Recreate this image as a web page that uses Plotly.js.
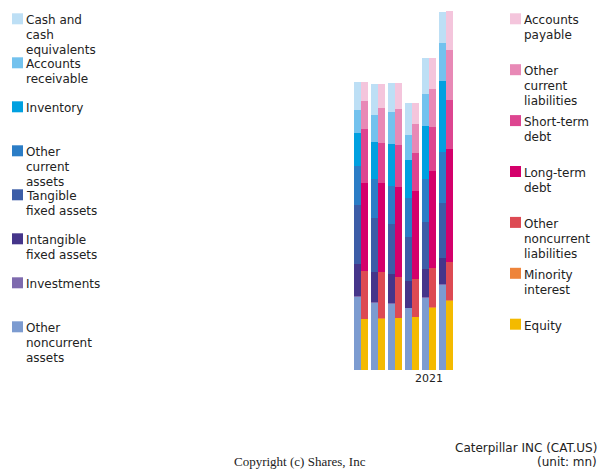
<!DOCTYPE html>
<html>
<head>
<meta charset="utf-8">
<script src="https://cdn.plot.ly/plotly-3.0.1.min.js"></script>
<style>html,body{margin:0;padding:0;background:#fff;}#chart{width:600px;height:470px;}</style>
</head>
<body>
<div id="chart"></div>
<script>
// Periods (only 2021 labelled on the axis)
const periods = ["2017", "2018", "2019", "2020", "2021", "2022"];
const shownTicks = ["2021"];

// Assets, bottom to top (unit: mn)
const otherNoncurrentAssets = [18325, 16775, 16525, 15425, 18100, 21275];
const investments           = [175, 150, 150, 150, 150, 150];
const intangibleFixedAssets = [7925, 7650, 7325, 6600, 6925, 6500];
const tangibleFixedAssets   = [14825, 13350, 12425, 11000, 11825, 13750];
const otherCurrentAssets    = [9750, 9750, 9575, 9750, 10825, 12825];
const inventory             = [8325, 9400, 10500, 9650, 13250, 17675];
const accountsReceivable    = [5675, 6675, 8000, 6175, 8000, 9650];
const cashAndEquivalents    = [7075, 7750, 7175, 8075, 8850, 7750];

// Liabilities & equity, bottom to top (unit: mn)
const equity                     = [12675, 12750, 12925, 13175, 15575, 17325];
const minorityInterest           = [150, 150, 150, 200, 150, 175];
const otherNoncurrentLiabilities = [12000, 11600, 10100, 9450, 9850, 9575];
const longTermDebt               = [22000, 22175, 22650, 22000, 24250, 28175];
const shortTermDebt              = [13350, 10150, 10500, 9500, 11000, 12150];
const otherCurrentLiabilities    = [7150, 8750, 8850, 7250, 9350, 12675];
const accountsPayable            = [4750, 5925, 6500, 5250, 7750, 9575];

const assetNames = ["Other<br>noncurrent<br>assets", "Investments", "Intangible<br>fixed assets",
  "Tangible<br>fixed assets", "Other<br>current<br>assets", "Inventory", "Accounts<br>receivable",
  "Cash and<br>cash<br>equivalents"];
const assetValues = [otherNoncurrentAssets, investments, intangibleFixedAssets, tangibleFixedAssets,
  otherCurrentAssets, inventory, accountsReceivable, cashAndEquivalents];
const assetColors = ["#7C9BD0", "#7E6AAE", "#45358A", "#3C5DA7", "#2B7DC6", "#00A0E0", "#73C2EE", "#BDDFF5"];

const liabNames = ["Equity", "Minority<br>interest", "Other<br>noncurrent<br>liabilities",
  "Long-term<br>debt", "Short-term<br>debt", "Other<br>current<br>liabilities", "Accounts<br>payable"];
const liabValues = [equity, minorityInterest, otherNoncurrentLiabilities, longTermDebt,
  shortTermDebt, otherCurrentLiabilities, accountsPayable];
const liabColors = ["#F4BA00", "#EE843A", "#DD4A53", "#D4006B", "#DD4590", "#E889B6", "#F4C5DC"];

const titleLines = ["Caterpillar INC (CAT.US)", "(unit: mn)"];
const copyright = "Copyright (c) Shares, Inc";

// ---- layout geometry ----
const W = 600, H = 470;
const M = {l: 120, r: 100, t: 10, b: 100};
const plotW = W - M.l - M.r, plotH = H - M.t - M.b;
const slotPx = 17, barPx = 7, firstCenterPx = 361;
const xr0 = -(firstCenterPx - M.l) / slotPx;
const xr1 = xr0 + plotW / slotPx;
const half = (barPx / 2) / slotPx;
const barW = barPx / slotPx;
const yMax = 90000;

const idx = periods.map((p, i) => i);
const traces = [];
assetValues.forEach((vals, k) => {
  traces.push({type: "bar", name: assetNames[k].replace(/<br>/g, " "),
    x: idx.map(i => i - half), y: vals, width: barW,
    marker: {color: assetColors[k], line: {width: 0}}, showlegend: false, hoverinfo: "name+y"});
});
liabValues.forEach((vals, k) => {
  traces.push({type: "bar", name: liabNames[k].replace(/<br>/g, " "),
    x: idx.map(i => i + half), y: vals, width: barW,
    marker: {color: liabColors[k], line: {width: 0}}, showlegend: false, hoverinfo: "name+y"});
});

// ---- manual legends ----
const px2x = px => (px - M.l) / plotW;
const px2y = py => (M.t + plotH - py) / plotH;
const shapes = [], annotations = [];
const font = {family: "DejaVu Sans", size: 12, color: "#222"};
function addLegend(names, colors, sqX, txtX, top0, step) {
  const n = names.length;
  for (let j = 0; j < n; j++) {
    const k = n - 1 - j; // top of stack first
    const top = top0 + j * step;
    shapes.push({type: "rect", xref: "paper", yref: "paper",
      x0: px2x(sqX), x1: px2x(sqX + 11), y0: px2y(top), y1: px2y(top + 11),
      fillcolor: colors[k], line: {width: 0}});
    const lines = names[k].split("<br>");
    lines.forEach((ln, li) => {
      annotations.push({xref: "paper", yref: "paper", x: px2x(txtX), y: px2y(top + 6.8 + li * 15),
        xanchor: "left", yanchor: "middle", align: "left", showarrow: false,
        text: ln, font: font});
    });
  }
}
addLegend(assetNames, assetColors, 12, 24, 13.3, 44);
addLegend(liabNames, liabColors, 510, 522, 13.3, 50.9);

annotations.push({xref: "paper", yref: "paper", x: px2x(300), y: px2y(461.5), xanchor: "center", yanchor: "middle",
  showarrow: false, text: copyright, font: {family: "Liberation Serif", size: 13, color: "#222"}});
titleLines.forEach((t, i) => {
  annotations.push({xref: "paper", yref: "paper", x: px2x(599), y: px2y(448 + i * 13.5), xanchor: "right", yanchor: "middle",
    showarrow: false, text: t, font: font});
});

const layout = {
  width: W, height: H, margin: M,
  paper_bgcolor: "#fff", plot_bgcolor: "#fff",
  barmode: "stack", bargap: 0,
  showlegend: false,
  xaxis: {range: [xr0, xr1], tickvals: shownTicks.map(t => periods.indexOf(t)), ticktext: shownTicks,
    showgrid: false, zeroline: false, showline: false, ticks: "",
    tickfont: {family: "DejaVu Sans", size: 11, color: "#222"}, fixedrange: true},
  yaxis: {range: [0, yMax], showgrid: false, zeroline: false, showline: false,
    showticklabels: false, ticks: "", fixedrange: true},
  shapes: shapes, annotations: annotations
};
Plotly.newPlot("chart", traces, layout, {staticPlot: true, displayModeBar: false});
</script>
</body>
</html>
